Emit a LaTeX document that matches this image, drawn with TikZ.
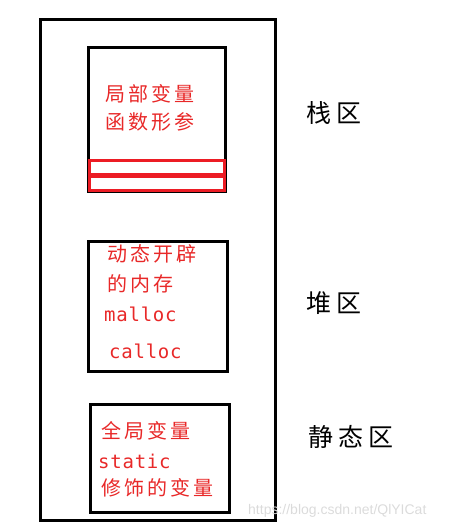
\documentclass[tikz,border=0pt]{standalone}
\usepackage{fontspec}
\setmainfont{Liberation Sans}
\newfontfamily\cjkred[LetterSpace=15]{Noto Sans CJK SC}
\newfontfamily\cjklab[LetterSpace=20]{Noto Sans CJK SC}
\newfontfamily\monored[LetterSpace=4]{DejaVu Sans Mono}
\definecolor{txtred}{RGB}{232,40,40}
\definecolor{boxred}{RGB}{236,28,36}
\begin{document}
\begin{tikzpicture}[x=1pt,y=-1pt,
  blackbox/.style={draw=black,line width=3pt},
  redbox/.style={draw=boxred,line width=3pt},
  redtxt/.style={text=txtred,anchor=west,inner sep=0pt,font=\cjkred\fontsize{20}{24}\selectfont},
  redmono/.style={text=txtred,anchor=west,inner sep=0pt,font=\monored\fontsize{19}{24}\selectfont},
  label/.style={text=black,anchor=west,inner sep=0pt,font=\cjklab\fontsize{25}{30}\selectfont},
  wm/.style={text=black!14,anchor=west,inner sep=0pt,font=\fontsize{14}{16}\selectfont}]
\useasboundingbox (0,0) rectangle (458,530);
% outer memory box
\draw[blackbox] (40,19) rectangle (275,520);
% stack box
\draw[blackbox] (88,47) rectangle (225,191);
\draw[redbox] (89,160) rectangle (224,174);
\draw[redbox] (89,176) rectangle (224,190);
\node[redtxt] (s1) at (105,94) {局部变量};
\node[redtxt] (s2) at (105,122) {函数形参};
% heap box
\draw[blackbox] (88,241) rectangle (227,371);
\node[redtxt] (h1) at (107,254) {动态开辟};
\node[redtxt] (h2) at (107,284) {的内存};
\node[redmono] (h3) at (104,314) {malloc};
\node[redmono] (h4) at (109,351) {calloc};
% static box
\draw[blackbox] (90,404) rectangle (229,512);
\node[redtxt] (t1) at (101,431) {全局变量};
\node[redmono] (t2) at (98,461) {static};
\node[redtxt] (t3) at (101,488) {修饰的变量};
% labels
\node[label] (l1) at (306,113) {栈区};
\node[label] (l2) at (306,303) {堆区};
\node[label] (l3) at (308,437) {静态区};
% watermark
\node[wm] (w) at (248,511) {https://blog.csdn.net/QlYICat};
\end{tikzpicture}
\end{document}
